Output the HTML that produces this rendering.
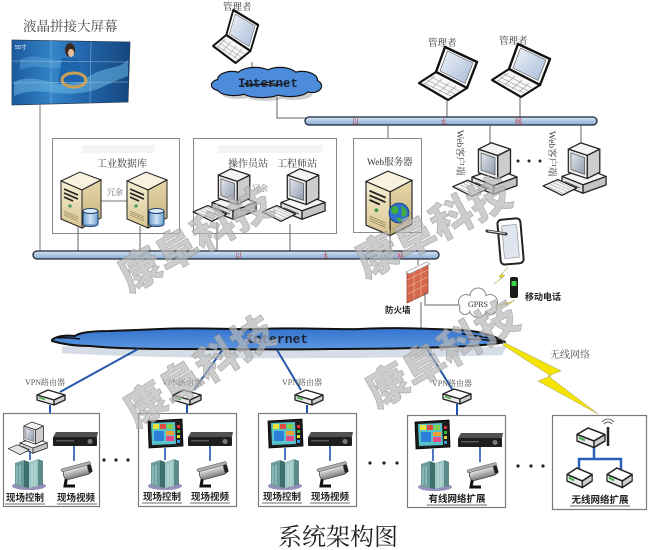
<!DOCTYPE html>
<html><head><meta charset="utf-8">
<style>
html,body{margin:0;padding:0;background:#fff;}
svg{display:block;}
</style></head><body>
<svg width="650" height="550" viewBox="0 0 650 550" xmlns="http://www.w3.org/2000/svg">
<defs>
 <linearGradient id="scr" x1="0" y1="0" x2="1" y2="1"><stop offset="0" stop-color="#eef2f9"/><stop offset="1" stop-color="#a9bcd8"/></linearGradient>
 <linearGradient id="scr2" x1="0" y1="0" x2="1" y2="1"><stop offset="0" stop-color="#e4e8ee"/><stop offset="1" stop-color="#8f9aab"/></linearGradient>
 <linearGradient id="beigeF" x1="0" y1="0" x2="0" y2="1"><stop offset="0" stop-color="#f6eed3"/><stop offset="1" stop-color="#d8c590"/></linearGradient>
 <linearGradient id="beigeS" x1="0" y1="0" x2="0" y2="1"><stop offset="0" stop-color="#e6d8ab"/><stop offset="1" stop-color="#c5b078"/></linearGradient>
 <linearGradient id="bus" x1="0" y1="0" x2="0" y2="1"><stop offset="0" stop-color="#d6e5f4"/><stop offset="1" stop-color="#86a9d2"/></linearGradient>
 <linearGradient id="cblue" x1="0" y1="0" x2="0" y2="1"><stop offset="0" stop-color="#3473cf"/><stop offset="1" stop-color="#5c97e0"/></linearGradient>
 <linearGradient id="lcdg" x1="0" y1="0" x2="1" y2="0"><stop offset="0" stop-color="#1d5a9e"/><stop offset="0.35" stop-color="#3385c8"/><stop offset="0.6" stop-color="#2367ad"/><stop offset="1" stop-color="#14477f"/></linearGradient>
 <linearGradient id="camg" x1="0" y1="0" x2="0" y2="1"><stop offset="0" stop-color="#f0f0f0"/><stop offset="1" stop-color="#7c7c7c"/></linearGradient>
 <linearGradient id="db" x1="0" y1="0" x2="1" y2="0"><stop offset="0" stop-color="#6f9fd0"/><stop offset="0.5" stop-color="#cfe2f4"/><stop offset="1" stop-color="#6f9fd0"/></linearGradient>

 <g id="laptop">
  <polygon points="26,0 58,15 48,41 17,25" fill="#fff" stroke="#111" stroke-width="2.4" stroke-linejoin="round"/>
  <polygon points="28.5,4 54,16 46,36.5 21,24" fill="url(#scr)" stroke="#555" stroke-width="0.6"/>
  <polygon points="17,25 48,41 29,53 0,36" fill="#f7f7f7" stroke="#111" stroke-width="2.2" stroke-linejoin="round"/>
  <g stroke="#9a9a9a" stroke-width="0.6">
   <line x1="12" y1="30" x2="40" y2="44"/><line x1="8" y1="33" x2="36" y2="47"/><line x1="5" y1="36" x2="32" y2="49"/>
   <line x1="16" y1="29" x2="6" y2="37"/><line x1="23" y1="32" x2="13" y2="41"/><line x1="30" y1="36" x2="20" y2="45"/><line x1="37" y1="39" x2="27" y2="48"/>
  </g>
 </g>

 <g id="server">
  <polygon points="0,10 19,1 40,9 21,19" fill="#f8f2de" stroke="#222" stroke-width="1"/>
  <polygon points="0,10 21,19 21,57 0,48" fill="url(#beigeF)" stroke="#222" stroke-width="1"/>
  <polygon points="21,19 40,9 40,47 21,57" fill="url(#beigeS)" stroke="#222" stroke-width="1"/>
  <g stroke="#222" stroke-width="1.6"><line x1="3" y1="18" x2="17" y2="24"/><line x1="3" y1="22" x2="17" y2="28"/><line x1="3" y1="26" x2="12" y2="30"/></g>
  <circle cx="9" cy="35" r="1.6" fill="#3a9a5a"/>
  <g stroke="#8a7a50" stroke-width="0.6"><line x1="3" y1="40" x2="17" y2="46"/><line x1="3" y1="42" x2="17" y2="48"/><line x1="3" y1="44" x2="17" y2="50"/></g>
 </g>

 <g id="dbc">
  <rect x="0" y="3" width="15" height="13" fill="url(#db)" stroke="#1a3f6b" stroke-width="1"/>
  <ellipse cx="7.5" cy="16" rx="7.5" ry="2.5" fill="#7ea9d6" stroke="#1a3f6b" stroke-width="1"/>
  <rect x="0.5" y="12" width="14" height="4" fill="url(#db)"/>
  <ellipse cx="7.5" cy="3" rx="7.5" ry="2.5" fill="#dcebf8" stroke="#1a3f6b" stroke-width="1"/>
 </g>

 <g id="pc">
  <polygon points="0,29 22,21 42,29 20,37" fill="#f6f6f6" stroke="#222" stroke-width="1.2" stroke-linejoin="round"/>
  <polygon points="0,29 20,37 20,45 0,37" fill="#e2e2e2" stroke="#222" stroke-width="1.2" stroke-linejoin="round"/>
  <polygon points="20,37 42,29 42,37 20,45" fill="#c4c4c4" stroke="#222" stroke-width="1.2" stroke-linejoin="round"/>
  <line x1="3" y1="34" x2="17" y2="40" stroke="#555" stroke-width="1"/>
  <polygon points="6,3 18,-3 36,3 24,9" fill="#f4f4f4" stroke="#222" stroke-width="1.2" stroke-linejoin="round"/>
  <polygon points="24,9 36,3 36,25 24,31" fill="#cdcdcd" stroke="#222" stroke-width="1.2" stroke-linejoin="round"/>
  <polygon points="6,3 24,9 24,31 6,25" fill="#ececec" stroke="#222" stroke-width="1.2" stroke-linejoin="round"/>
  <polygon points="8.5,6.5 21.5,11 21.5,27 8.5,22.5" fill="url(#scr2)" stroke="#444" stroke-width="0.6"/>
  <polygon points="-18,38 -4,32 14,40 0,47" fill="#f5f5f5" stroke="#222" stroke-width="1.2" stroke-linejoin="round"/>
  <g stroke="#999" stroke-width="0.5"><line x1="-14" y1="38.5" x2="2" y2="45.5"/><line x1="-11" y1="36.5" x2="5" y2="43.5"/><line x1="-8" y1="35" x2="8" y2="42"/><line x1="-5" y1="33.5" x2="10" y2="40.5"/></g>
 </g>

 <g id="router">
  <polygon points="0,5 11,0 28,5 17,10" fill="#fff" stroke="#222" stroke-width="1.3" stroke-linejoin="round"/>
  <polygon points="0,5 17,10 17,15 0,10" fill="#eaeaea" stroke="#222" stroke-width="1.3" stroke-linejoin="round"/>
  <polygon points="17,10 28,5 28,10 17,15" fill="#cfcfcf" stroke="#222" stroke-width="1.3" stroke-linejoin="round"/>
  <line x1="2" y1="7.5" x2="8" y2="9.5" stroke="#3cb043" stroke-width="1.6"/>
 </g>

 <g id="hmi">
  <polygon points="0,2 34,0 35,27 1,29" fill="#1c1c1c" stroke="#000" stroke-width="0.8"/>
  <polygon points="3,4 27,3 28,25 4,26" fill="#58c3c8"/>
  <rect x="5" y="5" width="6" height="5" fill="#e8e23a"/>
  <rect x="12" y="5" width="6" height="5" fill="#e84a3a"/>
  <rect x="19" y="5" width="6" height="5" fill="#7fd04a"/>
  <rect x="6" y="12" width="10" height="10" fill="#2c7fd8"/>
  <rect x="18" y="12" width="8" height="4" fill="#f0a030"/>
  <rect x="18" y="17" width="8" height="5" fill="#e84a8a"/>
  <rect x="29" y="6" width="3" height="3" fill="#d33"/>
  <rect x="29" y="11" width="3" height="3" fill="#3b3"/>
  <rect x="29" y="16" width="3" height="3" fill="#dd3"/>
  <rect x="29" y="21" width="3" height="3" fill="#39d"/>
 </g>

 <g id="dvr">
  <polygon points="3,0 45,0 44,5 0,5" fill="#505050"/>
  <rect x="0" y="5" width="44" height="9" rx="1" fill="#1e1e1e"/>
  <rect x="3" y="8" width="18" height="1.5" fill="#5a5a5a"/>
  <circle cx="37" cy="9.5" r="2.5" fill="#7a7a7a"/>
 </g>

 <g id="cab">
  <ellipse cx="17" cy="28" rx="17" ry="4" fill="#958fbb"/>
  <polygon points="3,5 12,2 12,29 3,27" fill="#6a9c9c"/>
  <polygon points="12,2 17,4 17,30 12,29" fill="#3f6e6e"/>
  <polygon points="17,4 26,1 26,28 17,30" fill="#9cc6c4"/>
  <polygon points="26,1 31,3 31,27 26,28" fill="#5b8a8a"/>
  <g stroke="#d8ecec" stroke-width="0.6"><line x1="5" y1="8" x2="5" y2="26"/><line x1="8" y1="7" x2="8" y2="27"/><line x1="20" y1="6" x2="20" y2="28"/><line x1="23" y1="5" x2="23" y2="28"/></g>
 </g>

 <g id="cam">
  <path d="M8,13 L6,24 L16,24" stroke="#111" stroke-width="3" fill="none"/>
  <g transform="rotate(-15 18 9)">
   <rect x="4" y="5" width="28" height="10" rx="4" fill="url(#camg)" stroke="#444" stroke-width="0.8"/>
   <rect x="3" y="3" width="30" height="3" rx="1" fill="#b0b0b0" stroke="#555" stroke-width="0.5"/>
   <rect x="29" y="6" width="4" height="8" rx="1.5" fill="#222"/>
  </g>
 </g>
</defs>

<rect width="650" height="550" fill="#fff"/>

<!-- LCD wall -->
<text x="23" y="31" font-family="'Liberation Serif','Noto Serif CJK SC',serif" font-size="13.5" fill="#444">液晶拼接大屏幕</text>
<polygon points="12,40 130,42 128,102 12,105" fill="url(#lcdg)" stroke="#2a3f5a" stroke-width="0.8"/>
<path d="M14,82 C40,70 60,96 90,76 C105,66 118,70 128,60 L128,76 C110,82 100,91 80,93 C55,96 35,86 14,96 Z" fill="#69b8e6" opacity="0.55"/>
<path d="M20,60 C40,50 55,66 66,58 L68,66 C55,72 38,62 20,70 Z" fill="#5aa8dc" opacity="0.45"/>
<path d="M62,58 L78,58 L84,82 L58,84 Z" fill="#1c64ad"/>
<ellipse cx="74" cy="80" rx="12" ry="7" fill="none" stroke="#c9a055" stroke-width="3"/>
<ellipse cx="70" cy="50" rx="5" ry="7" fill="#3a2a22"/>
<ellipse cx="71" cy="53" rx="3" ry="4" fill="#e8c0a0"/>
<g stroke="#9fb6d2" stroke-width="0.7" opacity="0.7"><line x1="51" y1="40.5" x2="51" y2="104"/><line x1="91" y1="41.5" x2="90" y2="103"/><line x1="12" y1="61" x2="129" y2="62"/><line x1="12" y1="83" x2="128.5" y2="82"/></g>
<text x="15" y="49" font-family="'Liberation Sans',sans-serif" font-size="5.5" fill="#fff">55寸</text>
<line x1="40" y1="105" x2="40" y2="252" stroke="#777" stroke-width="1"/>

<!-- top laptop + cloud -->
<text x="223" y="10" font-family="'Noto Serif CJK SC',serif" font-size="9.5" fill="#333">管理者</text>
<use href="#laptop" transform="translate(213,10) scale(0.78,1)"/>
<line x1="252" y1="62" x2="252" y2="71" stroke="#666" stroke-width="1"/>
<g fill="#cfcfcf">
 <ellipse cx="236" cy="85" rx="14" ry="8"/><ellipse cx="259" cy="81" rx="18" ry="8"/><ellipse cx="284" cy="81" rx="17" ry="8"/><ellipse cx="306" cy="85" rx="15" ry="8"/><ellipse cx="294" cy="95" rx="18" ry="5"/><ellipse cx="266" cy="96" rx="20" ry="5"/><ellipse cx="238" cy="94" rx="16" ry="5"/>
</g>
<g fill="#111">
 <ellipse cx="232" cy="80" rx="15.2" ry="9.2"/><ellipse cx="255" cy="76" rx="19.2" ry="9.2"/><ellipse cx="280" cy="76" rx="18.2" ry="9.2"/><ellipse cx="302" cy="80" rx="16.2" ry="9.2"/><ellipse cx="312" cy="86" rx="10.2" ry="7.2"/><ellipse cx="290" cy="90" rx="19.2" ry="7.2"/><ellipse cx="262" cy="91" rx="21.2" ry="7.2"/><ellipse cx="234" cy="89" rx="17.2" ry="7.2"/><ellipse cx="220" cy="85" rx="9.2" ry="6.2"/>
</g>
<g fill="#4d8bdb">
 <ellipse cx="232" cy="80" rx="14" ry="8"/><ellipse cx="255" cy="76" rx="18" ry="8"/><ellipse cx="280" cy="76" rx="17" ry="8"/><ellipse cx="302" cy="80" rx="15" ry="8"/><ellipse cx="312" cy="86" rx="9" ry="6"/><ellipse cx="290" cy="90" rx="18" ry="6"/><ellipse cx="262" cy="91" rx="20" ry="6"/><ellipse cx="234" cy="89" rx="16" ry="6"/><ellipse cx="220" cy="85" rx="8" ry="5"/>
</g>
<text x="268" y="87" text-anchor="middle" font-family="'Liberation Mono',monospace" font-weight="bold" font-size="12.5" fill="#1a2233">Internet</text>
<polyline points="277,97 277,118 306,118" fill="none" stroke="#666" stroke-width="1"/>

<!-- top laptops -->
<text x="428" y="46" font-family="'Noto Serif CJK SC',serif" font-size="9.5" fill="#333">管理者</text>
<text x="499" y="44" font-family="'Noto Serif CJK SC',serif" font-size="9.5" fill="#333">管理者</text>
<use href="#laptop" transform="translate(419,47)"/>
<use href="#laptop" transform="translate(492,44)"/>
<line x1="447" y1="100" x2="447" y2="117" stroke="#666" stroke-width="1"/>
<line x1="520" y1="97" x2="520" y2="117" stroke="#666" stroke-width="1"/>

<!-- top bus -->
<rect x="305" y="117" width="292" height="8" rx="4" fill="url(#bus)" stroke="#1b2633" stroke-width="1.3"/>
<g font-family="'Noto Serif CJK SC',serif" font-size="7" fill="#cc1f1f"><text x="352" y="124">以</text><text x="440" y="124">太</text><text x="515" y="124">网</text></g>
<g stroke="#666" stroke-width="1"><line x1="388" y1="125" x2="388" y2="138"/><line x1="490" y1="125" x2="490" y2="143"/><line x1="581" y1="125" x2="581" y2="145"/></g>

<!-- middle boxes -->
<g fill="none" stroke="#8a8a8a" stroke-width="1">
 <rect x="52.5" y="138.5" width="127" height="95"/>
 <rect x="193.5" y="138.5" width="143" height="95"/>
 <rect x="353.5" y="138.5" width="68" height="94"/>
</g>
<rect x="82" y="145" width="73" height="8" fill="#f4f4f4"/>
<rect x="218" y="145" width="105" height="8" fill="#f4f4f4"/>
<g font-family="'Liberation Serif','Noto Serif CJK SC',serif" font-size="10" fill="#333">
 <text x="97" y="167">工业数据库</text>
 <text x="228" y="167">操作员站</text>
 <text x="277" y="167">工程师站</text>
 <text x="367" y="165" font-size="9.5">Web服务器</text>
</g>
<line x1="101" y1="201" x2="127" y2="201" stroke="#777" stroke-width="1"/>
<rect x="106" y="187" width="17" height="9" fill="#fff"/>
<text x="107" y="195" font-family="'Noto Serif CJK SC',serif" font-size="8" fill="#555">冗余</text>
<use href="#server" transform="translate(61,171)"/>
<use href="#dbc" transform="translate(83,208)"/>
<use href="#server" transform="translate(127,171)"/>
<use href="#dbc" transform="translate(149,208)"/>
<use href="#pc" transform="translate(212,172) scale(1.05)"/>
<text x="252" y="191" font-family="'Noto Serif CJK SC',serif" font-size="8" fill="#666">冗余</text>
<use href="#pc" transform="translate(281,172) scale(1.05)"/>
<use href="#server" transform="translate(366,170) scale(1.15)"/>
<circle cx="399" cy="213" r="10" fill="#2f6fd0" stroke="#1a3a7a" stroke-width="0.8"/>
<path d="M392,207 C396,204 400,208 398,212 C396,216 392,214 391,211 Z M401,206 C405,207 408,211 406,215 C403,219 400,216 402,212 Z M397,218 C400,217 403,219 401,222 C398,222 396,220 397,218 Z" fill="#3fae3f"/>

<!-- web clients -->
<use href="#pc" transform="translate(472,146) scale(1.07)"/>
<use href="#pc" transform="translate(562,146) scale(1.05)"/>
<g font-family="'Liberation Serif','Noto Serif CJK SC',serif" font-size="9.5" fill="#444">
 <text transform="translate(457,130) rotate(90)">Web客户端</text>
 <text transform="translate(549,131) rotate(90)">Web客户端</text>
</g>
<g fill="#222"><circle cx="518" cy="161" r="1.5"/><circle cx="529" cy="161" r="1.5"/><circle cx="540" cy="161" r="1.5"/></g>

<!-- middle connectors -->
<g stroke="#666" stroke-width="1">
 <line x1="78" y1="226" x2="78" y2="251"/><line x1="140" y1="226" x2="140" y2="251"/>
 <line x1="217" y1="222" x2="217" y2="251"/><line x1="290" y1="224" x2="290" y2="251"/>
 <line x1="390" y1="230" x2="390" y2="251"/>
</g>

<!-- middle bus -->
<rect x="33" y="251" width="406" height="8" rx="4" fill="url(#bus)" stroke="#1b2633" stroke-width="1.3"/>
<g font-family="'Noto Serif CJK SC',serif" font-size="7" fill="#cc1f1f"><text x="235" y="258">以</text><text x="322" y="258">太</text><text x="397" y="258">网</text></g>

<!-- firewall -->
<line x1="418" y1="259" x2="418" y2="265" stroke="#666" stroke-width="1"/>
<polygon points="407,273 428,263 428,293 407,303" fill="#d5684a" stroke="#8a3a28" stroke-width="0.7"/>
<g stroke="#f0b8a0" stroke-width="0.6"><line x1="407" y1="280" x2="428" y2="270"/><line x1="407" y1="287" x2="428" y2="277"/><line x1="407" y1="294" x2="428" y2="284"/><line x1="414" y1="270" x2="414" y2="300"/><line x1="421" y1="266" x2="421" y2="297"/></g>
<polygon points="406,272 427,262 430,264 409,274" fill="#fff" stroke="#888" stroke-width="0.6"/>
<text x="385" y="313" font-family="'Noto Sans CJK SC',sans-serif" font-weight="bold" font-size="8.5" fill="#222">防火墙</text>
<line x1="421" y1="302" x2="421" y2="328" stroke="#666" stroke-width="1"/>
<polyline points="425,292 425,305 459,305" fill="none" stroke="#666" stroke-width="1"/>

<!-- GPRS cloud -->
<g fill="#888"><circle cx="466" cy="302" r="8"/><circle cx="478" cy="296" r="8.5"/><circle cx="490" cy="302" r="8"/><circle cx="478" cy="309" r="9"/><circle cx="465" cy="309" r="6"/><circle cx="491" cy="309" r="6"/></g>
<g fill="#fff"><circle cx="466" cy="302" r="7"/><circle cx="478" cy="296" r="7.5"/><circle cx="490" cy="302" r="7"/><circle cx="478" cy="309" r="8"/><circle cx="465" cy="309" r="5"/><circle cx="491" cy="309" r="5"/></g>
<text x="478" y="307" text-anchor="middle" font-family="'Liberation Serif',serif" font-size="8" fill="#333">GPRS</text>

<!-- tablet & phone -->
<rect x="499" y="219" width="23" height="45" rx="4" fill="#fff" stroke="#222" stroke-width="2" transform="rotate(-5 510 241)"/>
<rect x="503" y="225" width="15" height="33" rx="1" fill="#dfe6ef" stroke="#888" stroke-width="0.6" transform="rotate(-5 510 241)"/>
<line x1="487" y1="231" x2="506" y2="234" stroke="#333" stroke-width="3" stroke-linecap="round"/>
<line x1="488" y1="231" x2="505" y2="233.5" stroke="#ddd" stroke-width="1"/>
<polygon points="508,267 501,275 505,275 494,284 503,277 499,277" fill="#f0de00" stroke="#9a9a40" stroke-width="0.5"/>
<rect x="510" y="277" width="8" height="21" rx="2" fill="#1a1a1a"/>
<rect x="511.5" y="281" width="5" height="5" fill="#3bd34a"/>
<polygon points="497,307 506,302 504,305 515,300 506,306 508,303" fill="#f0de00" stroke="#9a9a40" stroke-width="0.4"/>
<text x="525" y="300" font-family="'Noto Sans CJK SC',sans-serif" font-weight="bold" font-size="9" fill="#222">移动电话</text>

<!-- bottom internet cloud -->
<path d="M62,346 C150,351 350,353 507,346 L502,355 C350,360 150,359 62,353 Z" fill="#d6dce5"/>
<path d="M52,340 C56,336 66,335 75,336 C80,332 95,331 110,331 L160,329 C200,327 230,330 260,329 C300,327 330,330 360,329 C400,327 430,329 460,330 C480,331 495,336 505,342 C495,344 485,345 470,346 C430,348 380,349 330,349 C280,350 230,349 180,349 C140,349 110,348 90,346 C75,346 62,344 52,341 Z" fill="url(#cblue)" stroke="#111" stroke-width="2" stroke-linejoin="round"/>
<g stroke="#111" stroke-width="1.5" fill="none"><path d="M462,334 C480,336 495,339 503,342"/><path d="M468,339 C482,339 494,341 503,342"/><path d="M58,338 C64,337 72,338 80,339"/></g>
<text x="277" y="343" text-anchor="middle" font-family="'Liberation Mono',monospace" font-weight="bold" font-size="13" fill="#1a2233">Internet</text>

<!-- wireless lightning -->
<line x1="503" y1="342" x2="548" y2="372" stroke="#9aa08a" stroke-width="1"/>
<polygon points="505,343 561,371 548,376 598,414 538,381 551,376 503,345" fill="#f5e400" stroke="#b8b060" stroke-width="0.6"/>
<text x="550" y="358" font-family="'Noto Serif CJK SC',serif" font-size="10" fill="#555">无线网络</text>

<!-- cloud to routers -->
<g stroke="#2458a8" stroke-width="2"><line x1="138" y1="349" x2="60" y2="392"/><line x1="223" y1="349" x2="194" y2="390"/><line x1="277" y1="350" x2="301" y2="390"/><line x1="427" y1="349" x2="452" y2="389"/></g>
<g font-family="'Liberation Serif','Noto Serif CJK SC',serif" font-size="8" fill="#555">
 <text x="25" y="385">VPN路由器</text><text x="162" y="385">VPN路由器</text><text x="282" y="385">VPN路由器</text><text x="432" y="386">VPN路由器</text>
</g>
<use href="#router" transform="translate(37,390)"/>
<use href="#router" transform="translate(173,390)"/>
<use href="#router" transform="translate(295,390)"/>
<use href="#router" transform="translate(443,389)"/>
<g stroke="#1f55b0" stroke-width="2"><line x1="50" y1="405" x2="50" y2="413"/><line x1="187" y1="405" x2="187" y2="413"/><line x1="307" y1="405" x2="307" y2="413"/><line x1="457" y1="404" x2="457" y2="415"/></g>

<!-- bottom boxes -->
<g fill="#fff" stroke="#7a7a7a" stroke-width="1.2">
 <rect x="3.5" y="413.5" width="96" height="93"/>
 <rect x="138.5" y="413.5" width="98" height="93"/>
 <rect x="258.5" y="413.5" width="98" height="93"/>
 <rect x="407.5" y="415.5" width="98" height="92"/>
 <rect x="552.5" y="415.5" width="94" height="94"/>
</g>
<!-- box A -->
<use href="#pc" transform="translate(20,424) scale(0.65)"/>
<use href="#dvr" transform="translate(53,432)"/>
<g stroke="#1f55b0" stroke-width="1.6"><line x1="30" y1="451" x2="30" y2="460"/><line x1="74" y1="446" x2="74" y2="461"/></g>
<use href="#cab" transform="translate(12,458)"/>
<use href="#cam" transform="translate(59,462)"/>
<!-- box B -->
<use href="#hmi" transform="translate(148,419)"/>
<use href="#dvr" transform="translate(188,432)"/>
<g stroke="#1f55b0" stroke-width="1.6"><line x1="165" y1="448" x2="165" y2="460"/><line x1="210" y1="446" x2="210" y2="461"/></g>
<use href="#cab" transform="translate(148,458)"/>
<use href="#cam" transform="translate(195,462)"/>
<!-- box C -->
<use href="#hmi" transform="translate(268,419)"/>
<use href="#dvr" transform="translate(308,432)"/>
<g stroke="#1f55b0" stroke-width="1.6"><line x1="285" y1="448" x2="285" y2="460"/><line x1="330" y1="446" x2="330" y2="461"/></g>
<use href="#cab" transform="translate(268,458)"/>
<use href="#cam" transform="translate(315,462)"/>
<!-- box D -->
<use href="#hmi" transform="translate(415,420)"/>
<use href="#dvr" transform="translate(458,433)"/>
<g stroke="#1f55b0" stroke-width="1.6"><line x1="433" y1="449" x2="433" y2="461"/><line x1="480" y1="447" x2="480" y2="462"/></g>
<use href="#cab" transform="translate(418,459)"/>
<use href="#cam" transform="translate(465,463)"/>
<!-- box E -->
<g stroke="#2e5fb8" stroke-width="2.5" fill="none"><polyline points="594,448 594,459"/><polyline points="579,470 579,459 621,459 621,470"/></g>
<use href="#router" transform="translate(577,428) scale(1.0,1.3)"/>
<line x1="608" y1="427" x2="608" y2="446" stroke="#222" stroke-width="2.5"/>
<path d="M604,424 Q608,420 612,424 M602,422 Q608,416 614,422" fill="none" stroke="#333" stroke-width="0.8"/>
<use href="#router" transform="translate(567,468) scale(0.9,1.3)"/>
<use href="#router" transform="translate(607,468) scale(0.9,1.3)"/>

<!-- bottom labels -->
<g font-family="'Noto Sans CJK SC',sans-serif" font-weight="bold" font-size="9.5" fill="#222">
 <text x="6" y="501">现场控制</text><text x="57" y="501">现场视频</text>
 <text x="143" y="500">现场控制</text><text x="191" y="500">现场视频</text>
 <text x="263" y="500">现场控制</text><text x="311" y="500">现场视频</text>
 <text x="457" y="502" text-anchor="middle">有线网络扩展</text>
 <text x="600" y="503" text-anchor="middle">无线网络扩展</text>
</g>
<g stroke="#8a8a8a" stroke-width="1.3">
 <line x1="5" y1="504" x2="45" y2="504"/><line x1="57" y1="504" x2="97" y2="504"/>
 <line x1="142" y1="503" x2="182" y2="503"/><line x1="190" y1="503" x2="230" y2="503"/>
 <line x1="262" y1="503" x2="302" y2="503"/><line x1="310" y1="503" x2="350" y2="503"/>
 <line x1="427" y1="505" x2="487" y2="505"/><line x1="570" y1="506" x2="630" y2="506"/>
</g>
<g fill="#222">
 <circle cx="104" cy="460" r="1.6"/><circle cx="116" cy="460" r="1.6"/><circle cx="128" cy="460" r="1.6"/>
 <circle cx="370" cy="463" r="1.6"/><circle cx="384" cy="463" r="1.6"/><circle cx="397" cy="463" r="1.6"/>
 <circle cx="518" cy="466" r="1.6"/><circle cx="531" cy="466" r="1.6"/><circle cx="543" cy="466" r="1.6"/>
</g>

<!-- title -->
<text x="278" y="545" font-family="'Noto Serif CJK SC',serif" font-size="24" fill="#222">系统架构图</text>

<!-- watermarks -->
<g font-family="'Noto Sans CJK SC',sans-serif" font-weight="900" font-size="42" fill="#b8b8b8" fill-opacity="0.7" stroke="#8c8c8c" stroke-width="0.7" stroke-opacity="0.6" text-anchor="middle" dominant-baseline="central">
 <text x="194" y="237" transform="rotate(-29 194 237)">康阜科技</text>
 <text x="432" y="225" transform="rotate(-27 432 225)">康阜科技</text>
 <text x="198" y="369" transform="rotate(-32 198 369)">康阜科技</text>
 <text x="441" y="352" transform="rotate(-30 441 352)">康阜科技</text>
</g>
</svg>
</body></html>
